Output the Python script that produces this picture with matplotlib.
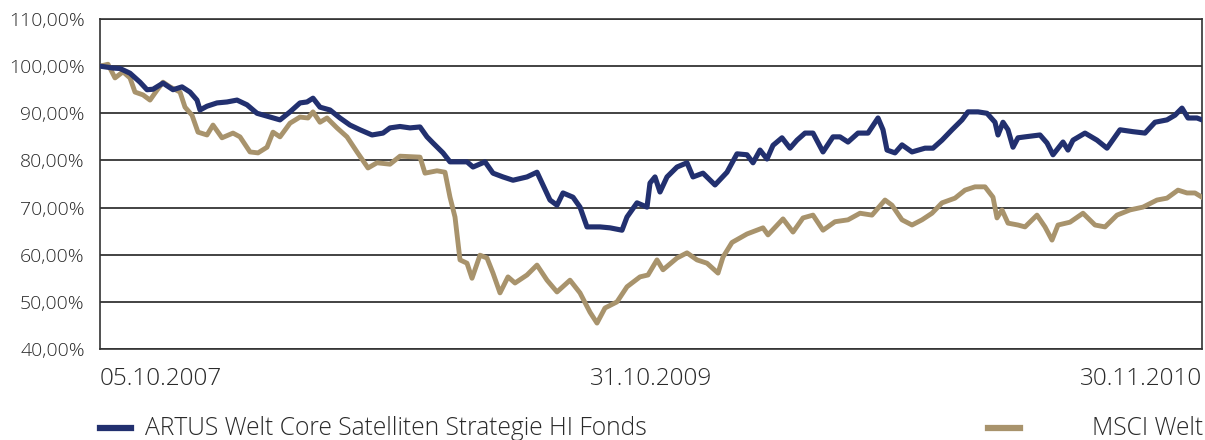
import matplotlib
matplotlib.use('Agg')
import matplotlib.pyplot as plt
from matplotlib.lines import Line2D

# (observation index, indexed value in %) -- index 0 = 05.10.2007, 1102 = 30.11.2010
fund = [(0, 100.0), (13, 99.6), (20, 99.5), (30, 98.5), (40, 96.6), (47, 95.0), (53, 95.1),
        (63, 96.4), (73, 95.0), (82, 95.6), (90, 94.5), (97, 92.8), (100, 90.7), (107, 91.5),
        (117, 92.2), (127, 92.4), (137, 92.8), (147, 91.8), (157, 90.0), (167, 89.4), (180, 88.6),
        (190, 90.3), (200, 92.2), (207, 92.4), (213, 93.2), (220, 91.3), (230, 90.7), (240, 89.0),
        (250, 87.5), (260, 86.5), (272, 85.4), (283, 85.8), (290, 86.9), (300, 87.2), (310, 86.9),
        (320, 87.1), (327, 85.0), (333, 83.7), (343, 81.6), (350, 79.7), (360, 79.7), (367, 79.7),
        (373, 78.6), (385, 79.7), (393, 77.3), (403, 76.5), (413, 75.8), (427, 76.5), (437, 77.5),
        (443, 74.8), (450, 71.6), (457, 70.5), (463, 73.1), (473, 72.2), (480, 70.1), (487, 65.9),
        (500, 65.9), (510, 65.7), (522, 65.2), (527, 68.0), (537, 71.0), (547, 70.1), (550, 75.2),
        (555, 76.5), (560, 73.3), (567, 76.5), (577, 78.6), (587, 79.5), (593, 76.5), (603, 77.3),
        (615, 74.8), (627, 77.5), (637, 81.4), (647, 81.2), (653, 79.5), (660, 82.2), (667, 80.3),
        (673, 83.2), (682, 84.8), (690, 82.6), (697, 84.3), (705, 85.8), (713, 85.8), (723, 81.8),
        (733, 85.0), (740, 85.0), (748, 83.9), (758, 85.8), (768, 85.8), (778, 89.0), (783, 86.5),
        (787, 82.2), (795, 81.6), (802, 83.3), (812, 81.8), (825, 82.6), (833, 82.6), (842, 84.3),
        (852, 86.5), (862, 88.6), (868, 90.3), (878, 90.3), (887, 90.0), (895, 88.1), (898, 85.4),
        (903, 88.1), (908, 86.5), (913, 82.8), (918, 84.8), (925, 85.0), (940, 85.4), (947, 83.7),
        (953, 81.2), (963, 83.9), (968, 82.2), (973, 84.3), (985, 85.8), (997, 84.3), (1007, 82.6),
        (1020, 86.5), (1033, 86.1), (1045, 85.8), (1055, 88.1), (1067, 88.6), (1075, 89.6),
        (1082, 91.1), (1088, 89.0), (1097, 89.0), (1102, 88.6)]

msci = [(0, 100.0), (8, 100.4), (15, 97.5), (23, 98.8), (30, 97.5), (35, 94.5), (43, 93.9),
        (50, 92.8), (57, 94.9), (63, 96.6), (70, 95.6), (80, 94.5), (85, 91.3), (92, 89.6),
        (98, 86.0), (107, 85.4), (113, 87.5), (122, 84.8), (133, 85.8), (140, 85.0), (150, 81.8),
        (158, 81.6), (167, 82.8), (173, 86.0), (180, 85.0), (190, 87.9), (200, 89.2), (208, 89.0),
        (213, 90.3), (220, 88.1), (227, 89.0), (237, 86.9), (247, 85.0), (257, 81.8), (268, 78.4),
        (277, 79.5), (290, 79.2), (300, 80.9), (320, 80.7), (325, 77.3), (337, 77.8), (345, 77.5),
        (350, 72.2), (355, 68.0), (360, 58.9), (367, 58.2), (372, 55.0), (380, 59.9), (387, 59.3),
        (393, 56.1), (400, 51.9), (408, 55.3), (415, 54.0), (427, 55.7), (437, 57.8), (447, 54.6),
        (457, 52.1), (470, 54.6), (480, 51.9), (490, 47.8), (497, 45.5), (505, 48.7), (517, 50.0),
        (527, 53.2), (540, 55.3), (548, 55.7), (557, 58.9), (563, 56.8), (577, 59.3), (587, 60.4),
        (597, 58.9), (607, 58.2), (618, 56.1), (623, 59.5), (632, 62.6), (647, 64.4), (663, 65.7),
        (668, 64.2), (683, 67.6), (693, 64.8), (703, 67.8), (713, 68.4), (723, 65.2), (735, 67.0),
        (748, 67.4), (760, 68.8), (772, 68.4), (785, 71.6), (792, 70.5), (802, 67.4), (812, 66.3),
        (822, 67.4), (832, 68.8), (842, 71.0), (855, 72.0), (865, 73.7), (875, 74.4), (885, 74.4),
        (893, 72.2), (897, 67.8), (902, 69.5), (908, 66.7), (918, 66.3), (925, 65.9), (937, 68.4),
        (945, 65.9), (952, 63.1), (958, 66.3), (970, 66.9), (983, 68.8), (995, 66.3), (1005, 65.9),
        (1017, 68.4), (1030, 69.5), (1043, 70.1), (1057, 71.6), (1067, 72.0), (1078, 73.7),
        (1087, 73.1), (1095, 73.1), (1102, 72.2)]

date_pos = [0, 551, 1102]
date_labels = ['05.10.2007', '31.10.2009', '30.11.2010']
y_ticks = [40, 50, 60, 70, 80, 90, 100, 110]

fund_name = 'ARTUS Welt Core Satelliten Strategie HI Fonds'
msci_name = 'MSCI Welt'
navy = '#22306f'
tan = '#a8936c'
txt = '#2a2a2a'

plt.rcParams['font.family'] = ['Open Sans', 'DejaVu Sans']
plt.rcParams['font.weight'] = 'light'

fig = plt.figure(figsize=(12.05, 4.4), dpi=100)
ax = fig.add_axes([100 / 1205, 1 - 349 / 440, 1102 / 1205, 330 / 440])

mt, mv = zip(*msci)
ft, fv = zip(*fund)
ax.plot(mt, mv, color=tan, lw=3.5, solid_joinstyle='round', zorder=3)
ax.plot(ft, fv, color=navy, lw=3.7, solid_joinstyle='round', zorder=4)

ax.set_xlim(0, 1102)
ax.set_ylim(40, 110)
ax.set_yticks(y_ticks)
ax.set_yticklabels([f'{v},00%' for v in y_ticks], fontsize=14, color=txt)
ax.set_xticks(date_pos)
ax.set_xticklabels(date_labels, fontsize=17.5, color=txt)
xl = ax.get_xticklabels()
xl[0].set_ha('left')
xl[2].set_ha('right')
ax.tick_params(axis='both', length=0)
ax.tick_params(axis='y', pad=11)
ax.tick_params(axis='x', pad=13)
ax.yaxis.grid(True, color='#222222', lw=1.2)
ax.set_axisbelow(True)
for s in ax.spines.values():
    s.set_color('#333333')
    s.set_linewidth(1.2)

# legend along the bottom
ly = 1 - 428 / 440
fig.add_artist(Line2D([100 / 1205, 131 / 1205], [ly, ly], color=navy, lw=4.5))
fig.text(145 / 1205, ly, fund_name, fontsize=17.7, color=txt, va='center', ha='left')
fig.add_artist(Line2D([988 / 1205, 1020 / 1205], [ly, ly], color=tan, lw=4.5))
fig.text(1203 / 1205, ly, msci_name, fontsize=17.7, color=txt, va='center', ha='right')

fig.savefig('out.png', dpi=100)
